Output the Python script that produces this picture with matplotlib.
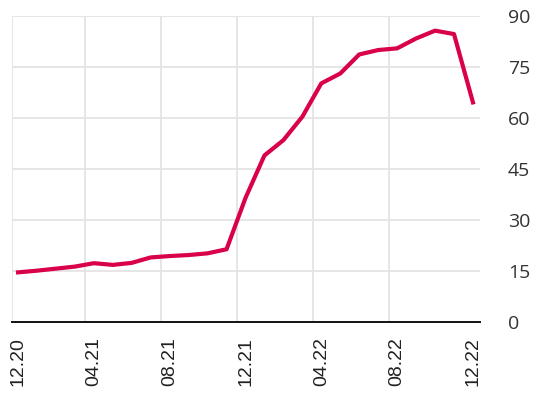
import matplotlib
matplotlib.use("Agg")
import matplotlib.pyplot as plt
import numpy as np

# monthly values, 12.20 .. 12.22
months = ["12.20", "01.21", "02.21", "03.21", "04.21", "05.21", "06.21",
          "07.21", "08.21", "09.21", "10.21", "11.21", "12.21", "01.22",
          "02.22", "03.22", "04.22", "05.22", "06.22", "07.22", "08.22",
          "09.22", "10.22", "11.22", "12.22"]
values = [14.6, 15.1, 15.7, 16.3, 17.3, 16.8, 17.4, 19.0, 19.4, 19.7,
          20.2, 21.4, 36.5, 49.0, 53.5, 60.4, 70.2, 73.1, 78.7, 80.0,
          80.5, 83.4, 85.7, 84.7, 64.6]
tick_labels = ["12.20", "04.21", "08.21", "12.21", "04.22", "08.22", "12.22"]
y_ticks = [0, 15, 30, 45, 60, 75, 90]

x = np.arange(len(months))
tick_pos = [months.index(t) for t in tick_labels]

fig = plt.figure(figsize=(5.33, 4.01), dpi=100)
ax = fig.add_axes([0.0225, 0.197, 0.878, 0.763])

grid_c = "#e2e2e2"
for y in y_ticks[1:]:
    ax.axhline(y, color=grid_c, lw=1.2, zorder=0)
for p in tick_pos[1:-1]:
    ax.axvline(p - 0.45, color=grid_c, lw=1.2, zorder=0)
ax.axvline(-0.32, color=grid_c, lw=1.2, zorder=0)

ax.plot(x, values, color="#d9004c", lw=3, solid_joinstyle="round", zorder=3)

ax.set_xlim(-0.32, 24.37)
ax.set_ylim(0, 90)

for s in ["top", "left", "right"]:
    ax.spines[s].set_visible(False)
ax.spines["bottom"].set_color("#111111")
ax.spines["bottom"].set_linewidth(1.4)

ax.set_xticks(tick_pos)
ax.set_xticklabels(tick_labels, rotation=90, fontsize=14,
                   family="Liberation Sans", color="#222222")
ax.tick_params(axis="x", length=0, pad=11)

ax.yaxis.tick_right()
ax.set_yticks(y_ticks)
ax.set_yticklabels([str(v) for v in y_ticks], fontsize=14,
                   family="Open Sans", color="#333333")
ax.tick_params(axis="y", length=0, pad=20)

fig.savefig("out.png", dpi=100)
